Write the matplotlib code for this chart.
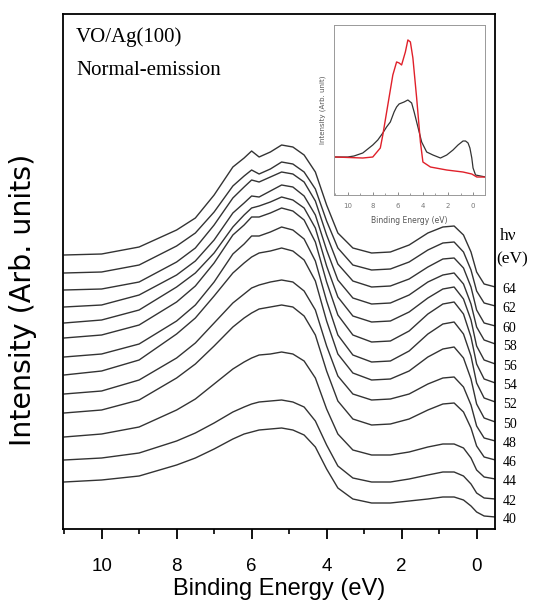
import matplotlib
matplotlib.use("Agg")
import matplotlib.pyplot as plt
from matplotlib.ticker import MultipleLocator

be = [11.0, 10.0, 9.0, 8.0, 7.5, 7.0, 6.5, 6.2, 6.0, 5.8, 5.5, 5.2, 4.9, 4.6, 4.3,
      4.0, 3.7, 3.3, 2.8, 2.3, 1.8, 1.3, 0.9, 0.6, 0.35, 0.15, 0.0, -0.2, -0.5]

# stacked spectra (offset already included), one per photon energy
hv64 = [275, 276, 283, 300, 312, 335, 363, 372, 379, 373, 378, 385, 383, 375, 358,
        325, 297, 282, 277, 278, 285, 297, 303, 304, 295, 278, 258, 246, 243]
hv62 = [257, 258, 265, 284, 297, 318, 344, 354, 360, 356, 361, 368, 366, 358, 341,
        309, 282, 265, 260, 261, 268, 280, 287, 288, 278, 260, 239, 227, 224]
hv60 = [240, 241, 248, 268, 282, 305, 332, 343, 350, 348, 353, 358, 356, 348, 329,
        295, 266, 249, 243, 244, 251, 263, 271, 272, 262, 243, 220, 207, 204]
hv58 = [223, 225, 235, 255, 269, 290, 317, 327, 334, 333, 339, 345, 343, 334, 315,
        280, 250, 232, 226, 227, 235, 248, 255, 257, 246, 226, 203, 190, 186]
hv56 = [207, 210, 220, 243, 257, 277, 303, 315, 322, 324, 328, 333, 330, 322, 302,
        264, 233, 214, 208, 209, 218, 232, 241, 243, 231, 210, 184, 170, 166]
hv54 = [192, 195, 205, 228, 244, 267, 295, 305, 313, 313, 317, 322, 319, 310, 288,
        248, 215, 195, 188, 189, 199, 216, 226, 228, 216, 193, 166, 151, 147]
hv52 = [173, 176, 186, 209, 225, 248, 276, 286, 294, 294, 298, 303, 300, 291, 269,
        229, 195, 175, 168, 169, 179, 196, 206, 208, 196, 174, 147, 132, 128]
hv50 = [155, 159, 170, 196, 212, 234, 257, 267, 273, 277, 279, 282, 279, 270, 249,
        209, 176, 157, 150, 151, 159, 173, 181, 183, 172, 151, 126, 112, 108]
hv48 = [136, 139, 150, 172, 187, 207, 227, 236, 242, 245, 248, 250, 248, 239, 220,
        184, 154, 136, 130, 131, 136, 146, 152, 153, 143, 125, 104, 92, 89]
hv46 = [117, 120, 130, 152, 166, 184, 203, 212, 217, 221, 223, 225, 223, 214, 195,
        159, 129, 111, 105, 106, 111, 120, 126, 127, 118, 102, 84, 73, 70]
hv44 = [93, 96, 103, 120, 131, 146, 161, 168, 172, 175, 176, 178, 176, 169, 152,
        121, 96, 80, 75, 75, 78, 83, 86, 86, 82, 72, 60, 53, 51]
hv42 = [70, 72, 77, 89, 97, 107, 118, 123, 126, 128, 129, 130, 128, 123, 109,
        85, 64, 52, 48, 48, 51, 55, 58, 58, 54, 46, 37, 32, 31]
hv40 = [48, 50, 54, 65, 72, 81, 91, 96, 98, 100, 101, 102, 100, 95, 83,
        61, 42, 31, 27, 27, 29, 31, 33, 33, 30, 24, 18, 14, 13]

spectra = [hv40, hv42, hv44, hv46, hv48, hv50, hv52, hv54, hv56, hv58, hv60, hv62, hv64]
hv_labels = ["40", "42", "44", "46", "48", "50", "52", "54", "56", "58", "60", "62", "64"]

# inset: two reference spectra
ins_be_black = [11, 10, 9.5, 8.8, 8, 7.6, 7.2, 6.9, 6.6, 6.3, 6.1, 5.9, 5.7, 5.5,
                5.2, 4.9, 4.7, 4.5, 4.3, 4.1, 3.9, 3.7, 3.2, 2.6, 2.1, 1.6, 1.2,
                0.8, 0.6, 0.4, 0.25, 0.1, 0.0, -0.2, -1.0]
ins_black = [38, 38, 39, 42, 50, 55, 62, 68, 73, 83, 88, 91, 92, 93,
             95, 92, 83, 73, 63, 53, 48, 43, 40, 37, 40, 45, 50,
             54, 54, 52, 47, 37, 27, 20, 18]
ins_be_red = [11, 8.8, 8, 7.4, 7.2, 6.8, 6.4, 6.1, 5.9, 5.7, 5.4, 5.2, 5.0, 4.8,
              4.5, 4.2, 4.0, 3.4, 2.1, 0.8, 0.1, -0.3, -1.0]
ins_red = [38, 37, 38, 47, 60, 90, 120, 133, 132, 130, 143, 155, 153, 137,
           97, 53, 33, 28, 25, 23, 21, 18, 18]

sans = ["Liberation Sans", "DejaVu Sans"]
serif = ["Liberation Serif", "DejaVu Serif"]

fig = plt.figure(figsize=(5.36, 6.01), dpi=100)
ax = fig.add_axes([0.1175, 0.1198, 0.806, 0.8569])

for s in spectra:
    ax.plot(be, s, color="#333333", lw=1.0)

ax.set_xlim(11.03, -0.49)
ax.set_ylim(1, 516)
ax.xaxis.set_major_locator(MultipleLocator(2))
ax.xaxis.set_minor_locator(MultipleLocator(1))
ax.tick_params(axis="x", which="major", direction="out", length=7, width=1.3,
               labelsize=13.5, pad=14)
ax.tick_params(axis="x", which="minor", direction="out", length=3.5, width=1.2)
ax.set_yticks([])
for lab in ax.get_xticklabels():
    lab.set_family(sans)
for sp in ax.spines.values():
    sp.set_linewidth(1.3)

ax.set_xlabel("Binding Energy (eV)", family=sans, fontsize=17)
ax.xaxis.set_label_coords(0.5, -0.096)
ax.set_ylabel("Intensity (Arb. units)", family="DejaVu Sans", fontsize=20.5)
ax.yaxis.set_label_coords(-0.06, 0.445)

ax.text(0.03, 0.956, "VO/Ag(100)", transform=ax.transAxes, family=serif,
        fontsize=15, va="center")
ax.text(0.03, 0.89, "Normal-emission", transform=ax.transAxes, family=serif,
        fontsize=15, va="center")

trans = ax.get_yaxis_transform()
for s, lab in zip(spectra, hv_labels):
    ax.text(1.018, s[-1] - 2, lab, transform=trans, family=serif, fontsize=10,
            va="center", ha="left", clip_on=False)
ax.text(1.012, 294, "h\u03bd", transform=trans, family=serif, fontsize=12.5,
        va="center", ha="left")
ax.text(1.003, 271, "(eV)", transform=trans, family=serif, fontsize=12.5,
        va="center", ha="left")

# inset
ins = fig.add_axes([0.623, 0.6755, 0.282, 0.283])
ins.plot(ins_be_black, ins_black, color="#333333", lw=0.9)
ins.plot(ins_be_red, ins_red, color="#e0202a", lw=1.0)
ins.set_xlim(11.1, -0.96)
ins.set_ylim(0, 170)
ins.set_yticks([])
ins.xaxis.set_major_locator(MultipleLocator(2))
ins.xaxis.set_minor_locator(MultipleLocator(1))
ins.tick_params(axis="x", which="major", direction="in", length=2.5, width=0.6,
                labelsize=5, colors="#777777", pad=6)
ins.tick_params(axis="x", which="minor", direction="in", length=1.5, width=0.5,
                colors="#777777")
for sp in ins.spines.values():
    sp.set_color("#999999")
    sp.set_linewidth(0.7)
ins.set_xlabel("Binding Energy (eV)", fontsize=5.5, color="#555555", labelpad=5)
ins.set_ylabel("Intensity (Arb. unit)", fontsize=5, color="#555555", labelpad=6)

fig.savefig("out.png", dpi=100)
